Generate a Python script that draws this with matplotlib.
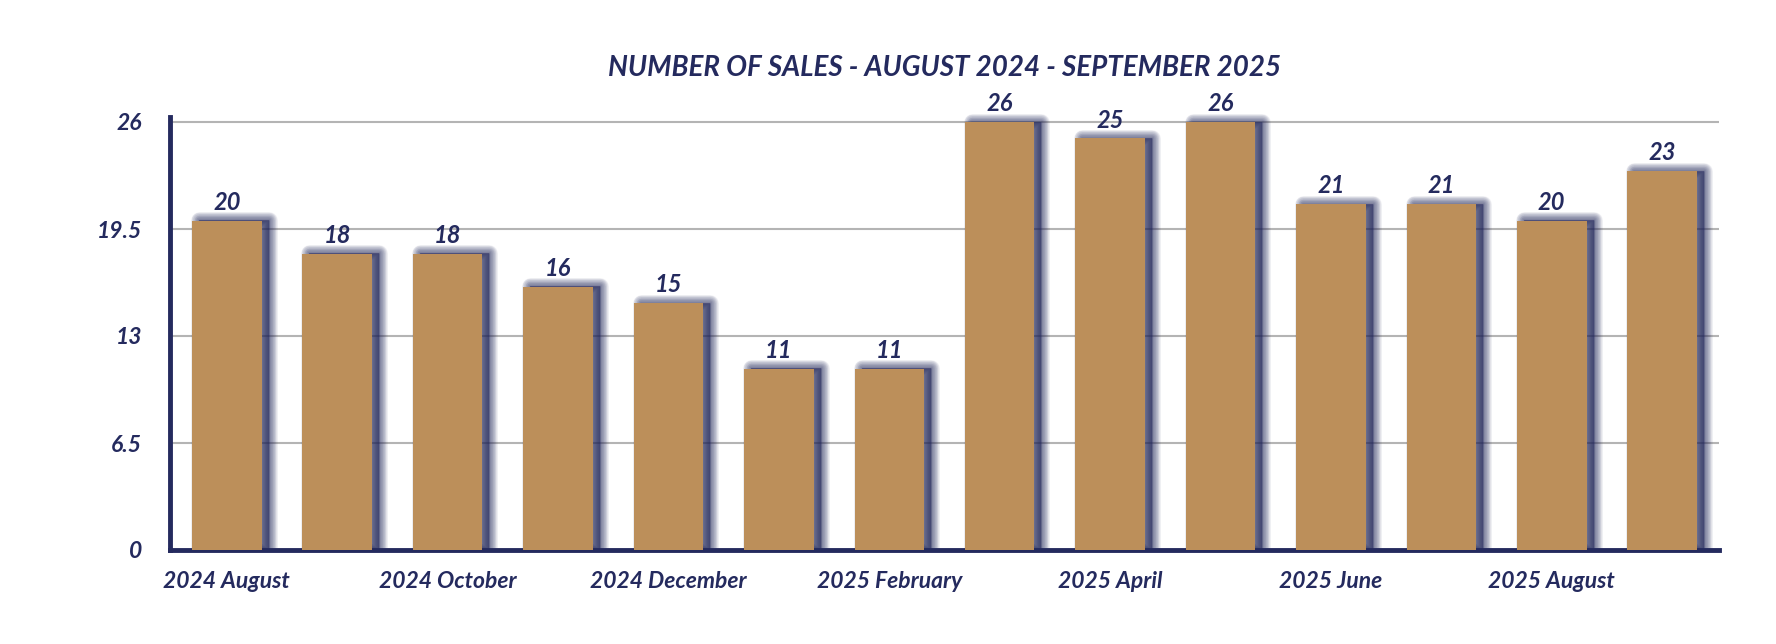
import matplotlib
matplotlib.use("Agg")
import matplotlib.pyplot as plt
import matplotlib.transforms as mtransforms
import numpy as np

months = ["2024 August", "2024 September", "2024 October", "2024 November",
          "2024 December", "2025 January", "2025 February", "2025 March",
          "2025 April", "2025 May", "2025 June", "2025 July",
          "2025 August", "2025 September"]
sales = [20, 18, 18, 16, 15, 11, 11, 26, 25, 26, 21, 21, 20, 23]
yticks = [0, 6.5, 13, 19.5, 26]
ytick_labels = ["0", "6.5", "13", "19.5", "26"]
title = "NUMBER OF SALES - AUGUST 2024 - SEPTEMBER 2025"

NAVY = "#242a5e"
BAR = "#bc8f5a"
GRID = "#b4b4b4"
FONT = "Lato"

YTOP = 26.8
y0_px, y26_px = 550, 122
top_px = y0_px - (y0_px - y26_px) * YTOP / 26
fig = plt.figure(figsize=(17.76, 6.44), dpi=100)
ax = fig.add_axes([170/1776, 1 - y0_px/644, (1719-170)/1776, (y0_px - top_px)/644])

x = np.arange(len(sales))
width = 0.63

# blurred shadow: layered, offset translucent bars
off = mtransforms.ScaledTranslation(7/100, 0.5/100, fig.dpi_scale_trans)
for lw in np.linspace(12, 0.5, 14):
    ax.bar(x, sales, width, color=NAVY, edgecolor=NAVY, linewidth=lw,
           alpha=0.062, joinstyle="round", transform=ax.transData + off,
           zorder=2)

ax.bar(x, sales, width, color=BAR, edgecolor="none", zorder=3)

for xi, v in zip(x, sales):
    ax.annotate(str(v), (xi, v), xytext=(0, 5), textcoords="offset points",
                ha="center", va="bottom", fontsize=17, fontweight="bold",
                fontstyle="italic", family=FONT, color=NAVY, zorder=5,
                annotation_clip=False)

ax.set_xlim(-0.515, len(sales) - 1 + 0.515)
ax.set_ylim(0, YTOP)
ax.set_yticks(yticks)
ax.set_yticklabels(ytick_labels)
ax.set_xticks(x[::2])
ax.set_xticklabels(months[::2])
ax.tick_params(axis="both", length=0, colors=NAVY, labelsize=16.5)
ax.tick_params(axis="y", pad=20)
ax.tick_params(axis="x", pad=15)
for lab in ax.get_xticklabels() + ax.get_yticklabels():
    lab.set_family(FONT)
    lab.set_fontweight("bold")
    lab.set_fontstyle("italic")

ax.yaxis.grid(True, color=GRID, linewidth=1.5)
ax.set_axisbelow(True)
for s in ["top", "right"]:
    ax.spines[s].set_visible(False)
ax.spines["left"].set_color(NAVY)
ax.spines["left"].set_linewidth(3.5)
ax.spines["left"].set_bounds(0, 26.3)
ax.spines["bottom"].set_color(NAVY)
ax.spines["bottom"].set_linewidth(3.5)

fig.text((170 + 1719) / 2 / 1776, 1 - 68/644, title, ha="center", va="center",
         fontsize=20, fontweight="bold", fontstyle="italic", family=FONT,
         color=NAVY)

fig.savefig("out.png", dpi=100, facecolor="white")
